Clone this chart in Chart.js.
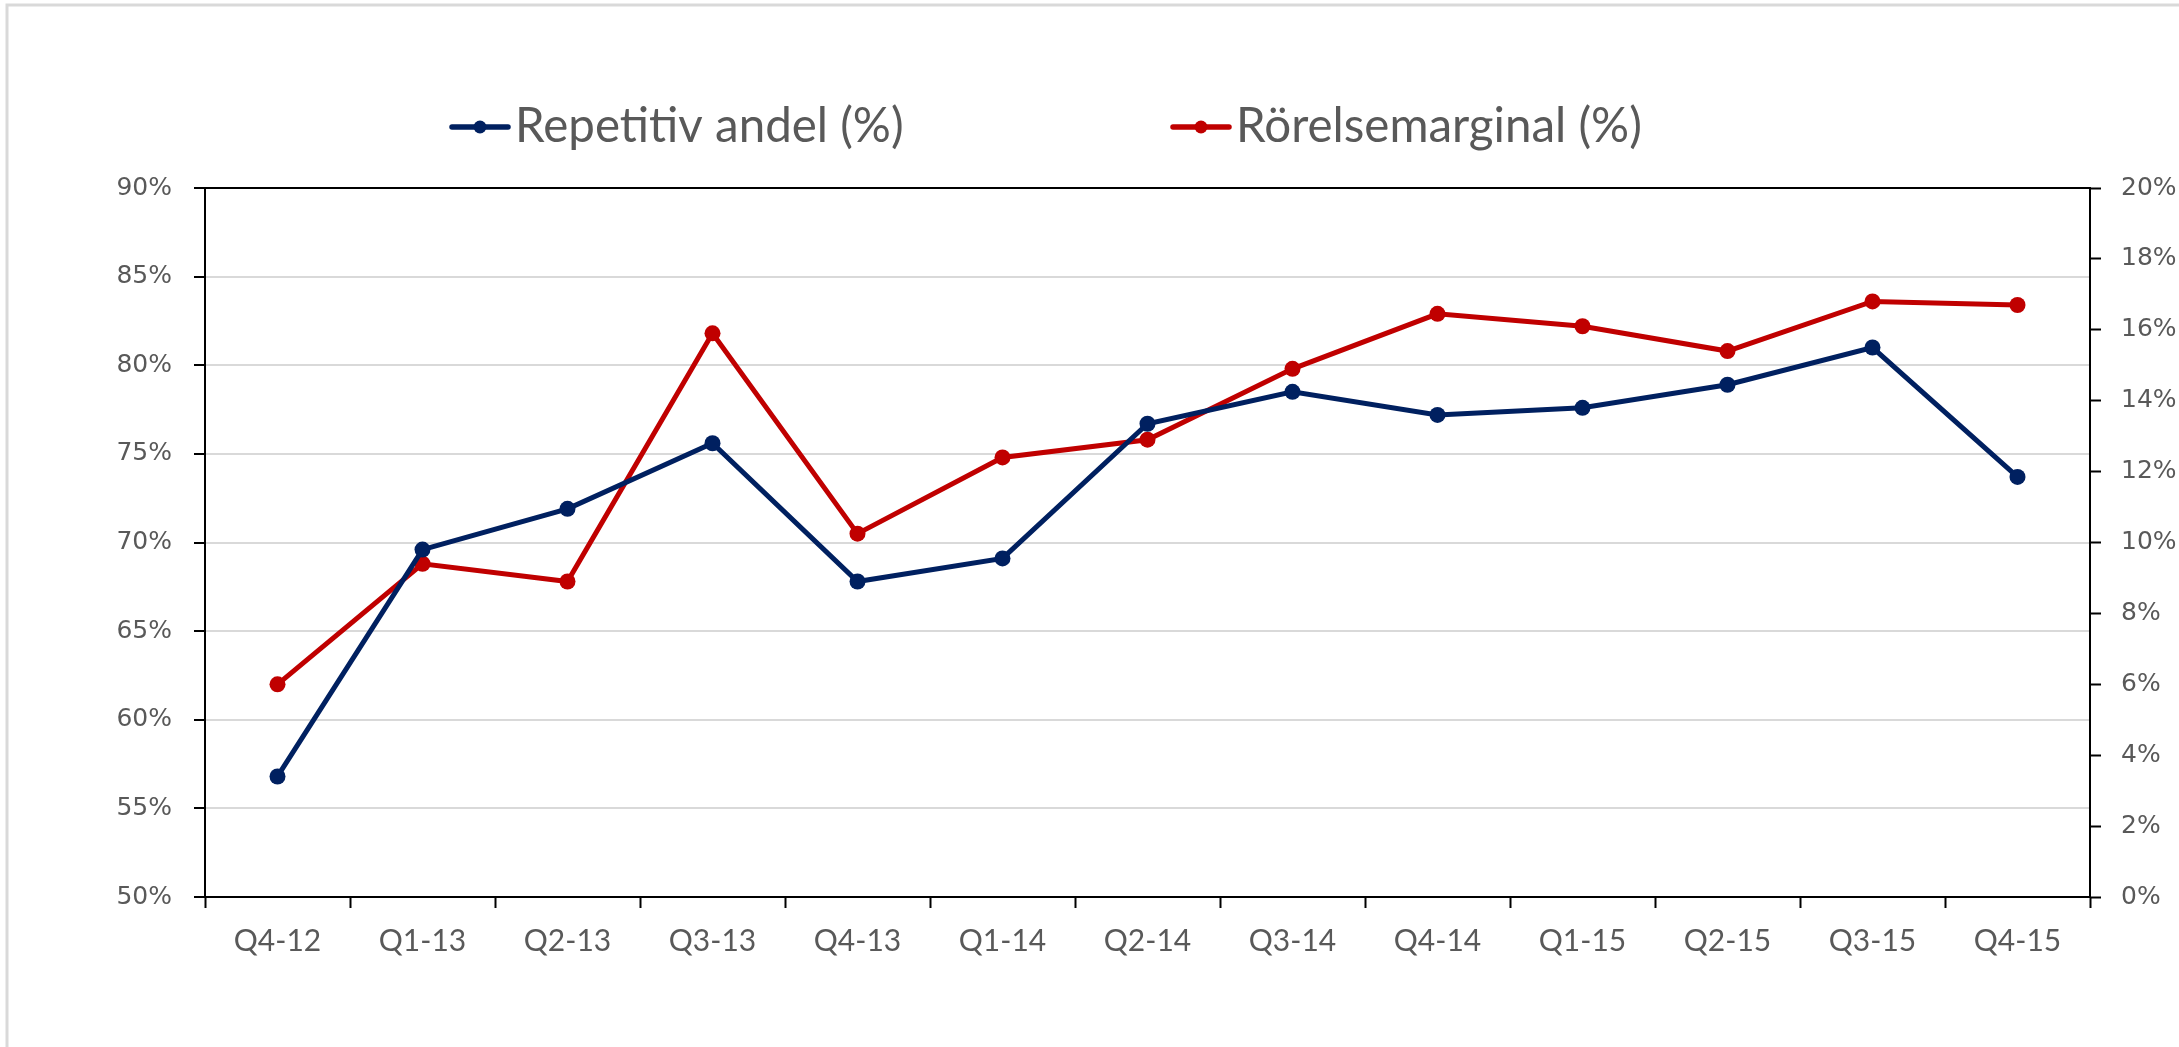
<!DOCTYPE html>
<html>
<head>
<meta charset="utf-8">
<style>
html,body{margin:0;padding:0;background:#ffffff;overflow:hidden;}
#wrap{width:2179px;height:1047px;position:relative;}
canvas{display:block;}
</style>
<script src="https://cdn.jsdelivr.net/npm/chart.js@4.4.0/dist/chart.umd.min.js"></script>
</head>
<body>
<div id="wrap"><canvas id="c" width="2179" height="1047"></canvas></div>
<script>
// ---- data ----
const categories = ['Q4-12','Q1-13','Q2-13','Q3-13','Q4-13','Q1-14','Q2-14','Q3-14','Q4-14','Q1-15','Q2-15','Q3-15','Q4-15'];
const repetitivAndel = [56.8, 69.6, 71.9, 75.6, 67.8, 69.1, 76.7, 78.5, 77.2, 77.6, 78.9, 81.0, 73.7];
const rorelsemarginal = [6.0, 9.4, 8.9, 15.9, 10.25, 12.4, 12.9, 14.9, 16.45, 16.1, 15.4, 16.8, 16.7];
const seriesNames = ['Repetitiv andel (%)', 'Rörelsemarginal (%)'];
const leftAxisRange = [50, 90, 5];
const rightAxisRange = [0, 20, 2];

const BLUE = '#002060';
const RED = '#C00000';
const TEXT = '#595959';

const framePlugin = {
  id: 'frame',
  beforeDraw(chart) {
    const ctx = chart.ctx;
    ctx.save();
    ctx.fillStyle = '#ffffff';
    ctx.fillRect(0, 0, chart.width, chart.height);
    ctx.strokeStyle = '#d9d9d9';
    ctx.lineWidth = 3;
    ctx.beginPath();
    ctx.moveTo(7, chart.height);
    ctx.lineTo(7, 5);
    ctx.lineTo(chart.width, 5);
    ctx.stroke();
    ctx.restore();
  }
};

const lineLegendPlugin = {
  id: 'lineLegend',
  afterDraw(chart) {
    const ctx = chart.ctx;
    ctx.save();
    ctx.font = '47.5px Lato';
    ctx.textBaseline = 'alphabetic';
    ctx.textAlign = 'left';
    const starts = [450, 1171];
    const cy = 127;
    chart.data.datasets.forEach((ds, i) => {
      const x = starts[i];
      ctx.strokeStyle = ds.borderColor;
      ctx.lineWidth = 5.5;
      ctx.lineCap = 'round';
      ctx.beginPath();
      ctx.moveTo(x + 2, cy);
      ctx.lineTo(x + 58, cy);
      ctx.stroke();
      ctx.fillStyle = ds.pointBackgroundColor;
      ctx.beginPath();
      ctx.arc(x + 30, cy, 6.5, 0, Math.PI * 2);
      ctx.fill();
      ctx.fillStyle = TEXT;
      ctx.fillText(ds.label, x + 65, 142);
    });
    ctx.restore();
  }
};

function draw() {
  new Chart(document.getElementById('c'), {
    type: 'line',
    data: {
      labels: categories,
      datasets: [
        {
          label: seriesNames[0],
          data: repetitivAndel,
          yAxisID: 'yL',
          borderColor: BLUE,
          backgroundColor: BLUE,
          pointBackgroundColor: BLUE,
          pointBorderColor: BLUE,
          borderWidth: 5,
          pointRadius: 8,
          pointBorderWidth: 0,
          tension: 0,
          fill: false
        },
        {
          label: seriesNames[1],
          data: rorelsemarginal,
          yAxisID: 'yR',
          borderColor: RED,
          backgroundColor: RED,
          pointBackgroundColor: RED,
          pointBorderColor: RED,
          borderWidth: 5,
          pointRadius: 8,
          pointBorderWidth: 0,
          tension: 0,
          fill: false
        }
      ]
    },
    options: {
      responsive: false,
      animation: false,
      devicePixelRatio: 1,
      layout: { padding: { top: 188, left: 0, right: 0, bottom: 0 } },
      plugins: {
        legend: { display: false },
        title: { display: false },
        tooltip: { enabled: false }
      },
      scales: {
        x: {
          type: 'category',
          offset: true,
          afterFit(scale) { scale.height = 150; },
          grid: {
            offset: true,
            drawOnChartArea: false,
            drawTicks: true,
            tickLength: 11,
            tickColor: '#000000',
            tickWidth: 2
          },
          border: { display: true, color: '#000000', width: 2 },
          ticks: {
            color: TEXT,
            font: { family: 'Lato', size: 30 },
            padding: 15,
            maxRotation: 0,
            autoSkip: false
          }
        },
        yL: {
          type: 'linear',
          position: 'left',
          min: leftAxisRange[0],
          max: leftAxisRange[1],
          afterFit(scale) { scale.width = 205; },
          grid: {
            color: (c) => (c.tick && c.tick.value === leftAxisRange[1]) ? '#000000' : '#d9d9d9',
            lineWidth: 2,
            drawTicks: true,
            tickLength: 11,
            tickColor: '#000000',
            tickWidth: 2
          },
          border: { display: true, color: '#000000', width: 2 },
          ticks: {
            stepSize: leftAxisRange[2],
            color: TEXT,
            font: { family: 'DejaVu Sans', size: 25 },
            padding: 22,
            callback: (v) => v + '%'
          }
        },
        yR: {
          type: 'linear',
          position: 'right',
          min: rightAxisRange[0],
          max: rightAxisRange[1],
          afterFit(scale) { scale.width = 89; },
          grid: {
            drawOnChartArea: false,
            drawTicks: true,
            tickLength: 11,
            tickColor: '#000000',
            tickWidth: 2
          },
          border: { display: true, color: '#000000', width: 2 },
          ticks: {
            stepSize: rightAxisRange[2],
            color: TEXT,
            font: { family: 'DejaVu Sans', size: 25 },
            padding: 20,
            callback: (v) => v + '%'
          }
        }
      }
    },
    plugins: [framePlugin, lineLegendPlugin]
  });
}

Promise.all([
  document.fonts.load('47.5px Lato'),
  document.fonts.load('30px Lato'),
  document.fonts.load('25px "DejaVu Sans"')
]).then(draw, draw);
</script>
</body>
</html>
